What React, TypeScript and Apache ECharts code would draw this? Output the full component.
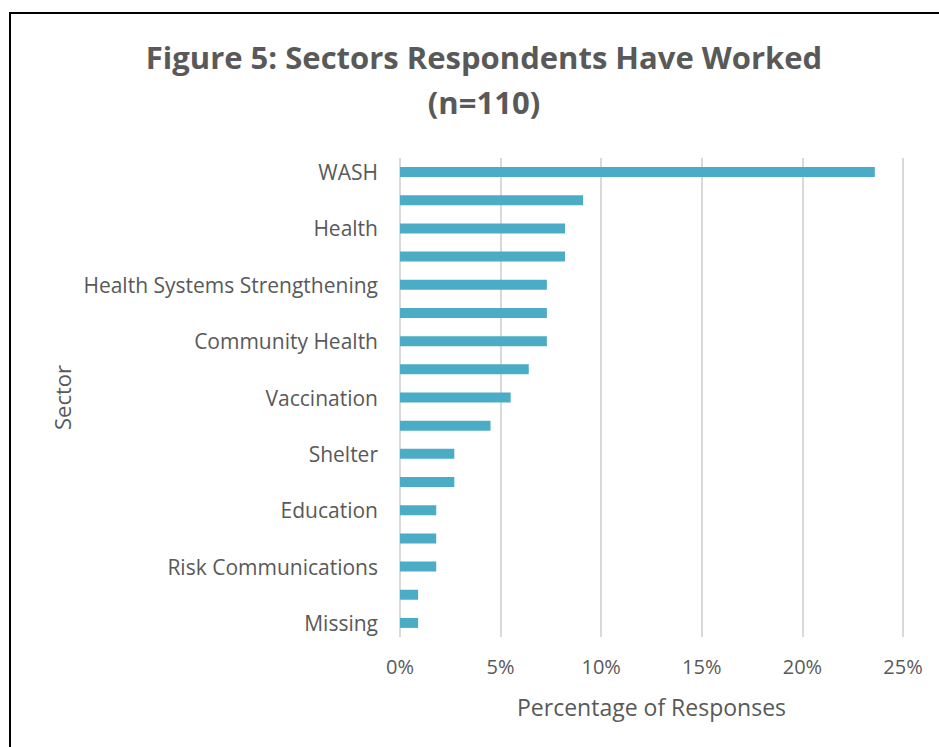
import React, { useEffect, useRef } from "react";
import * as echarts from "echarts";

const categories = [
  "WASH", "", "Health", "", "Health Systems Strengthening", "", "Community Health", "",
  "Vaccination", "", "Shelter", "", "Education", "", "Risk Communications", "", "Missing",
];
const values = [23.6, 9.1, 8.2, 8.2, 7.3, 7.3, 7.3, 6.4, 5.5, 4.5, 2.7, 2.7, 1.8, 1.8, 1.8, 0.9, 0.9];
const xTicks = [0, 5, 10, 15, 20, 25];

const FONT = "'Open Sans', sans-serif";
const GREY = "#595959";

export default function App() {
  const ref = useRef<HTMLDivElement>(null);
  useEffect(() => {
    if (!ref.current) return;
    const chart = echarts.init(ref.current, null, { renderer: "svg" });
    chart.setOption({
      animation: false,
      backgroundColor: "#ffffff",
      title: {
        text: "Figure 5: Sectors Respondents Have Worked\n(n=110)",
        left: 479,
        textAlign: "center",
        top: 29,
        textStyle: {
          fontFamily: FONT,
          fontSize: 31,
          fontWeight: "bold",
          color: GREY,
          lineHeight: 45,
        },
      },
      graphic: [
        {
          type: "rect",
          shape: { x: 10, y: 13, width: 1200, height: 1200 },
          style: { fill: "none", stroke: "#000000", lineWidth: 2 },
          silent: true,
        },
      ],
      grid: { left: 400, right: 36, top: 158, bottom: 110, containLabel: false },
      xAxis: {
        type: "value",
        min: 0,
        max: 25,
        interval: 5,
        name: "Percentage of Responses",
        nameLocation: "middle",
        nameGap: 58,
        nameTextStyle: { fontFamily: FONT, fontSize: 23, color: GREY },
        axisLine: { show: false },
        axisTick: { show: false },
        axisLabel: {
          margin: 19,
          fontFamily: FONT,
          fontSize: 20,
          color: GREY,
          formatter: (v: number) => (xTicks.includes(v) ? `${v}%` : ""),
        },
        splitLine: { show: true, lineStyle: { color: "#d9d9d9", width: 2 } },
      },
      yAxis: {
        type: "category",
        data: categories,
        inverse: true,
        name: "Sector",
        nameLocation: "middle",
        nameGap: 327,
        nameRotate: 90,
        nameTextStyle: { fontFamily: FONT, fontSize: 22, color: GREY },
        axisLine: { show: false },
        axisTick: { show: false },
        axisLabel: {
          interval: 0,
          margin: 22,
          fontFamily: FONT,
          fontSize: 21,
          color: GREY,
        },
      },
      series: [
        {
          type: "bar",
          data: values,
          barWidth: 10,
          itemStyle: { color: "#4bacc6" },
        },
      ],
    });
    return () => chart.dispose();
  }, []);
  return (
    <div
      ref={ref}
      style={{ position: "fixed", left: 0, top: 0, width: 939, height: 747 }}
    />
  );
}
